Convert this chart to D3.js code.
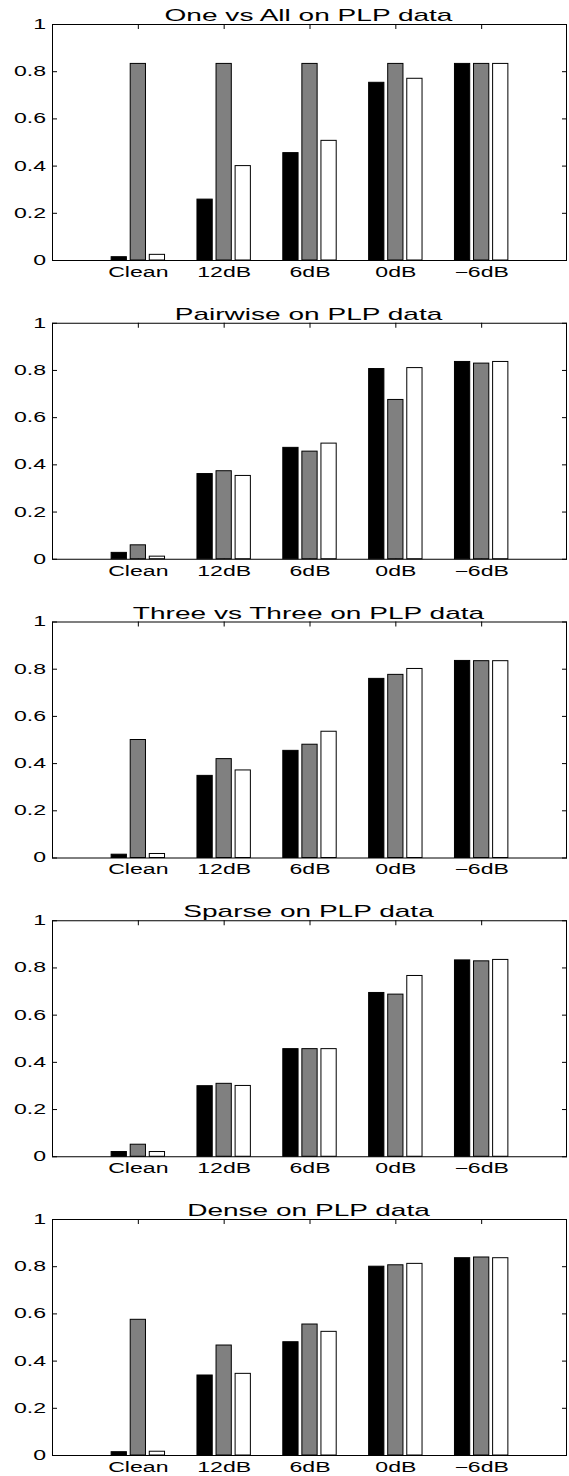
<!DOCTYPE html>
<html>
<head>
<meta charset="utf-8">
<script src="https://cdn.jsdelivr.net/npm/d3@7"></script>
<style>
  body { margin: 0; background: #fff; }
  text { font-family: "Liberation Sans", Arial, Helvetica, sans-serif; fill: #000; }
</style>
</head>
<body>
<div id="chart"></div>
<script>
var totalWidth = 569;
var totalHeight = 1476;

var margin = { top: 24, left: 52, right: 2 };
var panelHeight = 236;
var panelStep = 298.75;
var stretch = 1.65; // the figure text is stretched sideways

// ---------------- data ----------------
var categories = ["Clean", "12dB", "6dB", "0dB", "\u22126dB"];
var yTicks = [0, 0.2, 0.4, 0.6, 0.8, 1];
var yTickLabels = ["0", "0.2", "0.4", "0.6", "0.8", "1"];
var titles = ["One vs All on PLP data", "Pairwise on PLP data", "Three vs Three on PLP data",
              "Sparse on PLP data", "Dense on PLP data"];
var seriesColors = ["#000000", "#808080", "#ffffff"];

var oneVsAllBlack = [0.014, 0.258, 0.455, 0.753, 0.833];
var oneVsAllGrey  = [0.833, 0.833, 0.833, 0.833, 0.833];
var oneVsAllWhite = [0.024, 0.400, 0.507, 0.770, 0.833];

var pairwiseBlack = [0.027, 0.361, 0.472, 0.806, 0.836];
var pairwiseGrey  = [0.059, 0.373, 0.456, 0.675, 0.829];
var pairwiseWhite = [0.011, 0.353, 0.490, 0.810, 0.836];

var threeBlack = [0.014, 0.348, 0.454, 0.759, 0.835];
var threeGrey  = [0.500, 0.419, 0.480, 0.776, 0.834];
var threeWhite = [0.017, 0.371, 0.535, 0.801, 0.834];

var sparseBlack = [0.020, 0.299, 0.456, 0.694, 0.832];
var sparseGrey  = [0.051, 0.309, 0.456, 0.687, 0.828];
var sparseWhite = [0.020, 0.300, 0.456, 0.766, 0.834];

var denseBlack = [0.014, 0.339, 0.480, 0.800, 0.836];
var denseGrey  = [0.575, 0.466, 0.555, 0.806, 0.839];
var denseWhite = [0.016, 0.346, 0.524, 0.812, 0.836];

var panels = [
    [oneVsAllBlack, oneVsAllGrey, oneVsAllWhite],
    [pairwiseBlack, pairwiseGrey, pairwiseWhite],
    [threeBlack, threeGrey, threeWhite],
    [sparseBlack, sparseGrey, sparseWhite],
    [denseBlack, denseGrey, denseWhite]
];

//==========================================================
var svg = d3.select("#chart").append("svg")
    .attr("width", totalWidth)
    .attr("height", totalHeight);

var plotWidth = totalWidth - margin.left - margin.right;

// x positions 1..5 in a 0..6 range, like matlab bar()
var xScale = d3.scaleLinear()
    .domain([0, 6])
    .range([0, plotWidth]);

var yScale = d3.scaleLinear()
    .domain([0, 1])
    .range([panelHeight, 0]);

var groupSlot = 0.2222;
var barUnits = 0.8 * groupSlot;

panels.forEach(function (series, p) {
    DrawPanel(series, titles[p], margin.top + p * panelStep);
});

//============================================================
function DrawPanel(series, title, top) {
    var g = svg.append("g")
        .attr("transform", "translate(" + margin.left + "," + top + ")");

    // ticks first, bars are drawn over them
    var axisLeft = d3.axisLeft(yScale)
        .tickValues(yTicks)
        .tickSizeInner(-5)
        .tickSizeOuter(0)
        .tickPadding(6)
        .tickFormat(function (d, i) { return yTickLabels[i]; });
    var leftG = g.append("g").call(axisLeft);
    leftG.select(".domain").remove();
    leftG.selectAll("text")
        .attr("x", null)
        .attr("transform", "translate(-6,0) scale(" + stretch + ",1)")
        .style("font-size", "14px")
        .attr("font-family", null);

    var axisRight = d3.axisRight(yScale)
        .tickValues(yTicks)
        .tickSizeInner(-5)
        .tickSizeOuter(0)
        .tickFormat("");
    var rightG = g.append("g").attr("transform", "translate(" + plotWidth + ",0)").call(axisRight);
    rightG.select(".domain").remove();

    var axisBottom = d3.axisBottom(xScale)
        .tickValues([1, 2, 3, 4, 5])
        .tickSizeInner(-5)
        .tickSizeOuter(0)
        .tickPadding(7)
        .tickFormat(function (d, i) { return categories[i]; });
    var bottomG = g.append("g").attr("transform", "translate(0," + panelHeight + ")").call(axisBottom);
    bottomG.select(".domain").remove();
    bottomG.selectAll("text")
        .attr("y", null)
        .attr("transform", "translate(0,7) scale(" + stretch + ",1)")
        .style("font-size", "14px")
        .attr("font-family", null);

    var axisTop = d3.axisTop(xScale)
        .tickValues([1, 2, 3, 4, 5])
        .tickSizeInner(-5)
        .tickSizeOuter(0)
        .tickFormat("");
    var topG = g.append("g").call(axisTop);
    topG.select(".domain").remove();

    g.selectAll(".tick line").attr("stroke", "#000");

    // the bars
    series.forEach(function (values, s) {
        var offset = (s - 1) * groupSlot;
        g.selectAll(".bar" + s)
            .data(values)
            .enter()
            .append("rect")
            .attr("class", "bar" + s)
            .attr("x", function (d, i) { return xScale(i + 1 + offset - barUnits / 2); })
            .attr("width", xScale(barUnits) - xScale(0))
            .attr("y", function (d) { return yScale(d); })
            .attr("height", function (d) { return yScale(0) - yScale(d); })
            .attr("fill", seriesColors[s])
            .attr("stroke", "#000")
            .attr("stroke-width", 1);
    });

    // the box
    g.append("rect")
        .attr("x", 0.5)
        .attr("y", 0.5)
        .attr("width", plotWidth - 1)
        .attr("height", panelHeight)
        .attr("fill", "none")
        .attr("stroke", "#000")
        .attr("stroke-width", 1);

    g.append("text")
        .attr("transform", "translate(" + (plotWidth / 2 - 1) + ",-3) scale(" + stretch + ",1)")
        .attr("text-anchor", "middle")
        .style("font-size", "17px")
        .text(title);
}
</script>
</body>
</html>
